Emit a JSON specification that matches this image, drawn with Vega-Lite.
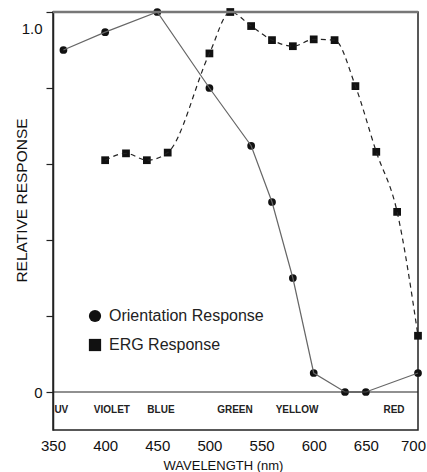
{
  "$schema": "https://vega.github.io/schema/vega-lite/v6.json",
  "width": 365,
  "height": 418,
  "autosize": {"type": "none"},
  "padding": {"left": 53, "top": 12, "right": 9, "bottom": 42},
  "background": "white",
  "config": {"font": "Liberation Sans", "view": {"stroke": "#222", "strokeWidth": 1.5}},
  "datasets": {
    "resp": [
      {"series": "Orientation Response", "wavelength": 360, "response": 0.90},
      {"series": "Orientation Response", "wavelength": 400, "response": 0.947},
      {"series": "Orientation Response", "wavelength": 450, "response": 1.0},
      {"series": "Orientation Response", "wavelength": 500, "response": 0.80},
      {"series": "Orientation Response", "wavelength": 540, "response": 0.648},
      {"series": "Orientation Response", "wavelength": 560, "response": 0.50},
      {"series": "Orientation Response", "wavelength": 580, "response": 0.30},
      {"series": "Orientation Response", "wavelength": 600, "response": 0.05},
      {"series": "Orientation Response", "wavelength": 630, "response": 0.0},
      {"series": "Orientation Response", "wavelength": 650, "response": 0.0},
      {"series": "Orientation Response", "wavelength": 700, "response": 0.05},
      {"series": "ERG Response", "wavelength": 400, "response": 0.61},
      {"series": "ERG Response", "wavelength": 420, "response": 0.628},
      {"series": "ERG Response", "wavelength": 440, "response": 0.61},
      {"series": "ERG Response", "wavelength": 460, "response": 0.63},
      {"series": "ERG Response", "wavelength": 500, "response": 0.891},
      {"series": "ERG Response", "wavelength": 520, "response": 1.0},
      {"series": "ERG Response", "wavelength": 540, "response": 0.963},
      {"series": "ERG Response", "wavelength": 560, "response": 0.926},
      {"series": "ERG Response", "wavelength": 580, "response": 0.91},
      {"series": "ERG Response", "wavelength": 600, "response": 0.928},
      {"series": "ERG Response", "wavelength": 620, "response": 0.926},
      {"series": "ERG Response", "wavelength": 640, "response": 0.805},
      {"series": "ERG Response", "wavelength": 660, "response": 0.632},
      {"series": "ERG Response", "wavelength": 680, "response": 0.474},
      {"series": "ERG Response", "wavelength": 700, "response": 0.148}
    ],
    "bands": [
      {"band": "UV", "wavelength": 358},
      {"band": "VIOLET", "wavelength": 406.5},
      {"band": "BLUE", "wavelength": 453.5},
      {"band": "GREEN", "wavelength": 524.5},
      {"band": "YELLOW", "wavelength": 584},
      {"band": "RED", "wavelength": 677}
    ],
    "refs": [
      {"level": 0, "line": "zero"},
      {"level": 1, "line": "top"}
    ]
  },
  "layer": [
    {
      "data": {"name": "resp"},
      "mark": {"type": "point", "filled": true, "color": "#111111", "opacity": 1},
      "encoding": {
        "x": {
          "field": "wavelength", "type": "quantitative",
          "scale": {"domain": [350, 700], "nice": false, "zero": false},
          "axis": {
            "title": "WAVELENGTH (nm)",
            "values": [350, 400, 450, 500, 550, 600, 650, 700],
            "ticks": false, "domain": false, "grid": false,
            "labelFontSize": 15, "labelPadding": 8, "labelFlush": false, "labelColor": "#111",
            "labelOffset": {"condition": {"test": "datum.value == 700", "value": -5}, "value": 0},
            "titleFontSize": 13, "titleFontWeight": "normal", "titlePadding": 6, "titleColor": "#111",
            "titleX": 170
          }
        },
        "y": {
          "field": "response", "type": "quantitative",
          "scale": {"domain": [-0.1, 1.0], "nice": false},
          "axis": {
            "title": "RELATIVE RESPONSE",
            "values": [0, 0.2, 0.4, 0.6, 0.8, 1],
            "labelExpr": "datum.value == 0 ? '0' : (datum.value == 1 ? '1.0' : '')",
            "grid": false,
            "tickSize": 7, "tickColor": "#222", "tickWidth": 1.2,
            "domainColor": "#222", "domainWidth": 1.5,
            "labelFontSize": 15, "labelColor": "#111", "labelPadding": 4, "labelFlush": false,
            "labelOffset": {"condition": {"test": "datum.value == 1", "value": 16}, "value": 0},
            "titleFontSize": 15.5, "titleFontWeight": "normal", "titleColor": "#111",
            "titleX": -24, "titleY": 188
          }
        },
        "shape": {
          "field": "series", "type": "nominal",
          "scale": {"domain": ["Orientation Response", "ERG Response"], "range": ["circle", "square"]},
          "legend": {
            "title": null, "orient": "none", "legendX": 34, "legendY": 296,
            "labelFontSize": 16, "labelColor": "#222", "symbolSize": 150,
            "symbolFillColor": "#111", "symbolStrokeColor": "#111", "symbolStrokeWidth": 0,
            "rowPadding": 13, "labelOffset": 6, "padding": 0
          }
        },
        "size": {"value": 60}
      }
    },
    {
      "data": {"name": "resp"},
      "transform": [{"filter": "datum.series == 'Orientation Response'"}],
      "mark": {"type": "line", "color": "#666666", "strokeWidth": 1.2},
      "encoding": {
        "x": {"field": "wavelength", "type": "quantitative"},
        "y": {"field": "response", "type": "quantitative"}
      }
    },
    {
      "data": {"name": "resp"},
      "transform": [{"filter": "datum.series == 'ERG Response'"}],
      "mark": {"type": "line", "color": "#222222", "strokeWidth": 1.2, "strokeDash": [5, 4], "interpolate": "monotone"},
      "encoding": {
        "x": {"field": "wavelength", "type": "quantitative"},
        "y": {"field": "response", "type": "quantitative"}
      }
    },
    {
      "data": {"name": "bands"},
      "mark": {"type": "text", "fontSize": 10, "fontWeight": "bold", "color": "#222222", "baseline": "middle", "align": "center"},
      "encoding": {
        "x": {"field": "wavelength", "type": "quantitative"},
        "y": {"datum": -0.047},
        "text": {"field": "band", "type": "nominal"}
      }
    },
    {
      "data": {"name": "refs"},
      "transform": [{"filter": "datum.line == 'zero'"}],
      "mark": {"type": "rule", "strokeWidth": 1.2, "color": "#222222"},
      "encoding": {"x": {"datum": 350}, "x2": {"datum": 700}, "y": {"field": "level", "type": "quantitative"}}
    },
    {
      "data": {"name": "refs"},
      "transform": [{"filter": "datum.line == 'top'"}],
      "mark": {"type": "rule", "strokeWidth": 2.5, "color": "#777777"},
      "encoding": {"x": {"datum": 350}, "x2": {"datum": 700}, "y": {"field": "level", "type": "quantitative"}}
    }
  ]
}
